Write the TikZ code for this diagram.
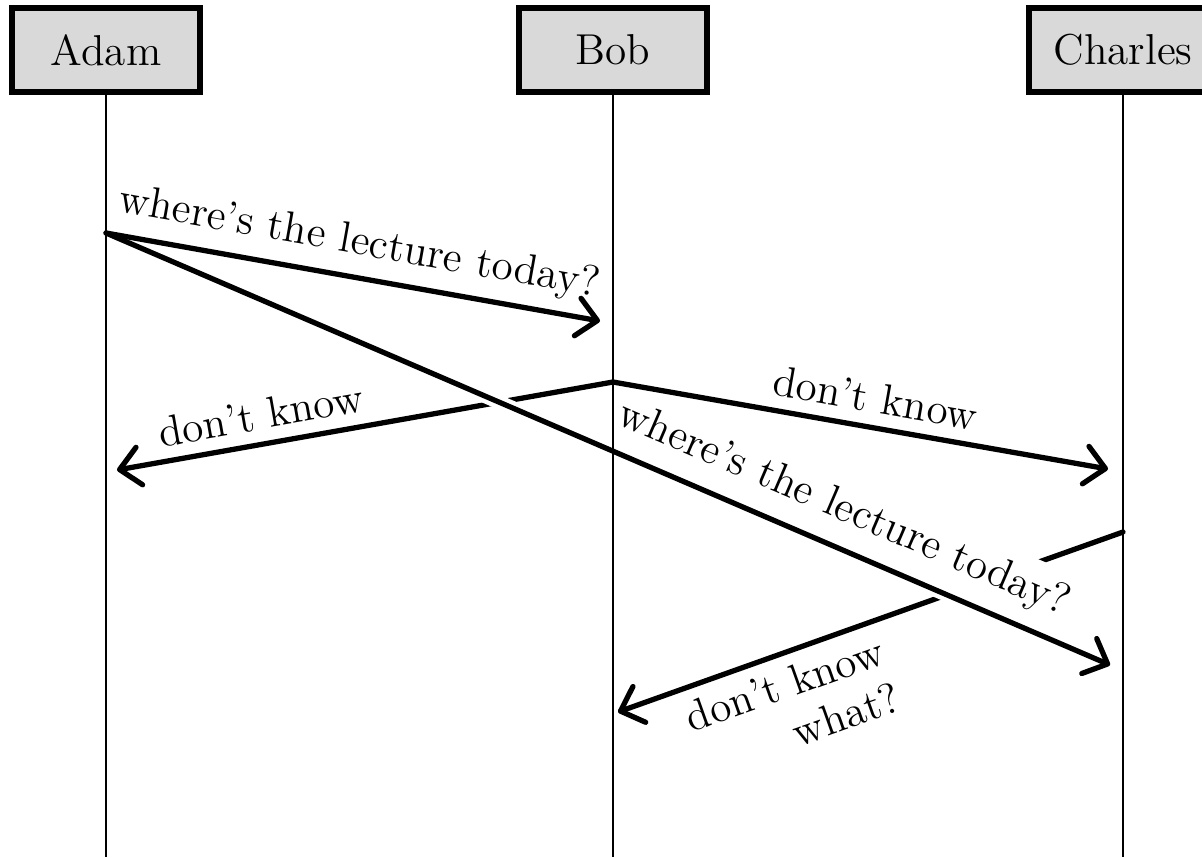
\documentclass[tikz,border=0pt]{standalone}
\usepackage{amssymb}
\usepackage{amsmath}
\usepackage{tikz}
\usetikzlibrary{arrows.meta}

\tikzset{
actor/.style={draw, line width=1.6pt, fill=black!15, minimum width=1.88cm, minimum height=0.845cm, font=\fontsize{12.3}{14}\selectfont},
lifeline/.style={line width=0.4pt},
msg/.style={line width=1.5pt, line cap=round, -{Straight Barb[length=2mm,width=3.8mm,round]}},
msgtext/.style={font=\fontsize{12.3}{14}\selectfont, sloped},
}

\begin{document}
\begin{tikzpicture}[scale=1.0]
\useasboundingbox (0,0) rectangle (12.02,-8.57);

\foreach \name/\x in {Adam/1.06, Bob/6.13, Charles/11.23} {
\node[actor] (\name) at (\x,-0.5) {\name};
\coordinate (\name-end) at (\x,-8.57);
}

\coordinate (adam-ask) at (1.06,-2.33);
\coordinate (bob-ask) at (6.00,-3.21);
\coordinate (charles-ask) at (11.10,-6.65);
\coordinate (bob-dk) at (6.13,-3.82);
\coordinate (adam-dk) at (1.17,-4.70);
\coordinate (charles-dk) at (11.08,-4.69);
\coordinate (charles-what) at (11.23,-5.32);
\coordinate (bob-what) at (6.18,-7.12);

% answers first, the long question goes over them
\draw[msg] (bob-dk) -- node[msgtext, above, pos=0.7] {don't know} (adam-dk);
\draw[msg] (charles-what) -- node[msgtext, below, pos=0.69, align=right] {don't know\\what?} (bob-what);
\draw[msg, preaction={draw=white, line width=4pt, -}] (adam-ask) -- node[msgtext, above=1pt, pos=0.72, fill=white] {where's the lecture today?} (charles-ask);
\draw[msg] (adam-ask) -- node[msgtext, above] {where's the lecture today?} (bob-ask);
\draw[msg] (bob-dk) -- node[msgtext, above, pos=0.52] {don't know} (charles-dk);

\foreach \name in {Adam, Bob, Charles} {
\draw[lifeline] (\name.south) -- (\name-end);
}

\end{tikzpicture}
\end{document}
